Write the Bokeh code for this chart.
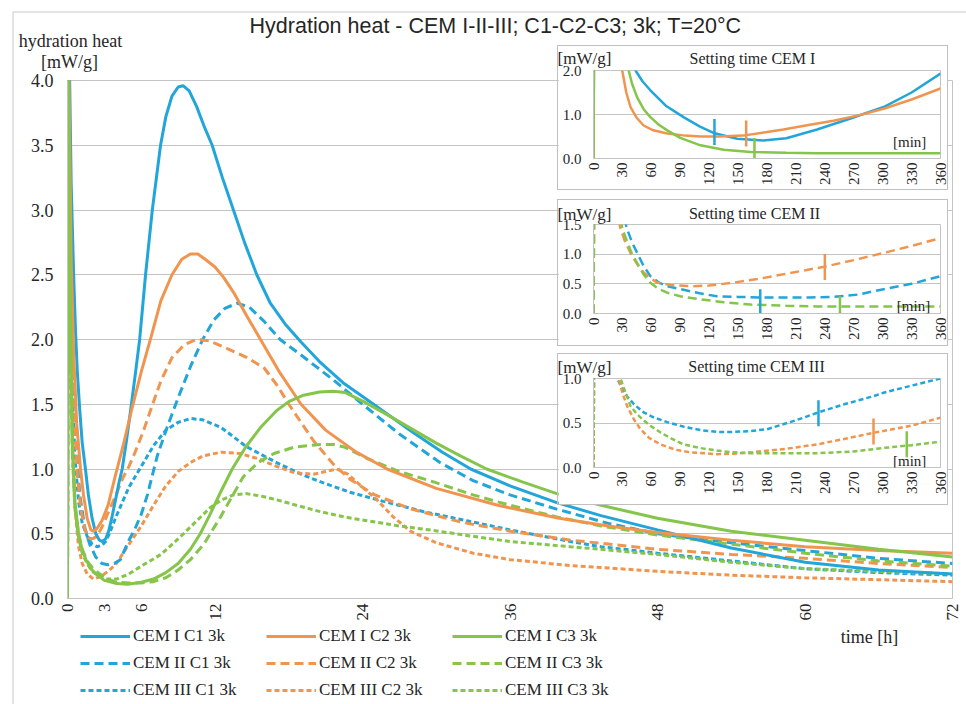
import math
import numpy as np
from bokeh.plotting import figure
from bokeh.models import (Range1d, FixedTicker, PrintfTickFormatter, Label, Legend,
                          LegendItem, GridBox)
from bokeh.embed import file_html
from bokeh.resources import INLINE

# ---------------- data: main chart (time in hours, heat in mW/g) ----------------
X_TICKS = [0, 3, 6, 12, 24, 36, 48, 60, 72]
Y_TICKS = [0, 0.5, 1.0, 1.5, 2.0, 2.5, 3.0, 3.5, 4.0]
CEMS = ["I", "II", "III"]
CLASSES = ["C1", "C2", "C3"]

T_I_C1 = [0, 0.05, 0.3, 0.5, 0.65, 0.8, 1.0, 1.2, 1.46, 1.7, 2.0, 2.3, 2.6, 2.85, 3.1, 3.35, 3.6, 3.9, 4.2, 4.45,
          4.8, 5.13, 5.5, 5.87, 6.35, 6.9, 7.57, 8.0, 8.5, 9.0, 9.4, 9.9, 10.5, 11.1, 11.77, 12.6, 13.5, 14.4, 15.4,
          16.5, 17.7, 19.0, 20.5, 22.5, 24.9, 28.0, 30.5, 32.8, 36.0, 39.8, 43.4, 48.0, 54.0, 60.0, 66.0, 72.0]
V_I_C1 = [0, 4.8, 3.2, 2.5, 2.07, 1.75, 1.45, 1.2, 1.0, 0.8, 0.62, 0.5, 0.45, 0.44, 0.46, 0.52, 0.62, 0.76, 0.9, 1.0,
          1.22, 1.45, 1.72, 2.0, 2.5, 3.0, 3.5, 3.72, 3.88, 3.95, 3.96, 3.92, 3.8, 3.65, 3.5, 3.25, 3.0, 2.75, 2.5,
          2.28, 2.12, 1.98, 1.83, 1.66, 1.5, 1.29, 1.13, 1.0, 0.87, 0.74, 0.64, 0.53, 0.39, 0.28, 0.22, 0.19]

T_I_C2 = [0, 0.05, 0.3, 0.5, 0.75, 1.06, 1.3, 1.6, 1.9, 2.1, 2.4, 2.8, 3.3, 3.9, 4.5, 5.2, 6.0, 6.8, 7.6, 8.5,
          9.3, 10.0, 10.6, 11.2, 12.0, 12.7, 13.6, 14.6, 15.7, 17.3, 19.0, 21.0, 23.5, 26.0, 30.0, 35.0, 40.0,
          44.0, 48.0, 54.0, 60.0, 66.0, 72.0]
V_I_C2 = [0, 4.6, 2.6, 1.9, 1.35, 1.0, 0.8, 0.62, 0.53, 0.52, 0.54, 0.6, 0.72, 0.95, 1.17, 1.45, 1.75, 2.02, 2.3, 2.5,
          2.62, 2.66, 2.66, 2.62, 2.56, 2.48, 2.35, 2.18, 2.0, 1.74, 1.5, 1.3, 1.13, 1.0, 0.85, 0.72, 0.62,
          0.56, 0.51, 0.45, 0.40, 0.37, 0.35]

T_I_C3 = [0, 0.05, 0.2, 0.4, 0.6, 0.9, 1.2, 1.5, 1.9, 2.3, 3.0, 4.0, 4.9, 6.0, 7.0, 8.0, 9.0, 10.0, 10.8, 11.6,
          12.5, 13.4, 14.5, 15.7, 17.0, 18.0, 19.2, 20.5, 21.6, 22.6, 24.1, 26.0, 28.0, 30.0, 32.0, 34.1, 37.0,
          39.8, 43.4, 48.0, 54.0, 60.0, 66.0, 72.0]
V_I_C3 = [0, 4.4, 2.5, 1.2, 0.75, 0.5, 0.37, 0.3, 0.23, 0.19, 0.14, 0.115, 0.11, 0.125, 0.15, 0.2, 0.27, 0.38, 0.5, 0.65,
          0.83, 1.0, 1.17, 1.32, 1.45, 1.52, 1.57, 1.595, 1.6, 1.59, 1.52, 1.42, 1.31, 1.2, 1.1, 1.0, 0.9,
          0.81, 0.72, 0.62, 0.52, 0.45, 0.38, 0.32]

T_II_C1 = [0, 0.05, 0.3, 0.5, 0.7, 1.0, 1.4, 1.8, 2.3, 2.8, 3.3, 3.8, 4.3, 5.0, 5.5, 6.0, 6.5, 7.3, 8.1, 9.0,
           10.0, 11.0, 11.9, 12.8, 13.8, 14.8, 16.0, 17.3, 19.0, 21.6, 24.0, 27.0, 30.3, 33.0, 36.0, 39.8, 44.0,
           48.0, 54.0, 60.0, 66.0, 72.0]
V_II_C1 = [0, 4.5, 2.6, 1.7, 1.2, 0.8, 0.55, 0.42, 0.32, 0.27, 0.26, 0.27, 0.3, 0.45, 0.54, 0.65, 0.8, 1.1, 1.32, 1.55,
           1.79, 2.0, 2.15, 2.24, 2.28, 2.25, 2.14, 2.0, 1.88, 1.69, 1.5, 1.27, 1.05, 0.91, 0.8, 0.69, 0.58,
           0.5, 0.43, 0.37, 0.31, 0.27]

T_II_C2 = [0, 0.05, 0.3, 0.5, 0.8, 1.1, 1.4, 1.7, 2.0, 2.4, 2.8, 3.3, 3.9, 4.5, 5.0, 5.5, 6.2, 7.0, 7.6, 8.5,
           9.5, 10.5, 11.5, 13.0, 14.6, 16.0, 17.1, 18.0, 19.0, 20.0, 21.6, 23.0, 25.0, 28.0, 32.0, 36.0, 41.0,
           48.0, 54.0, 60.0, 66.0, 72.0]
V_II_C2 = [0, 4.5, 2.3, 1.5, 0.95, 0.68, 0.54, 0.47, 0.46, 0.48, 0.55, 0.66, 0.79, 0.93, 1.02, 1.13, 1.3, 1.52, 1.68, 1.86,
           1.96, 2.0, 1.99, 1.93, 1.86, 1.78, 1.64, 1.5, 1.36, 1.22, 1.04, 0.92, 0.8, 0.69, 0.59, 0.52, 0.45,
           0.38, 0.34, 0.31, 0.27, 0.24]

T_II_C3 = [0, 0.05, 0.2, 0.4, 0.6, 0.9, 1.2, 1.6, 2.0, 2.6, 3.3, 4.0, 5.0, 6.0, 7.0, 8.0, 9.0, 10.0, 11.1, 12.45,
           13.4, 14.3, 15.5, 16.8, 18.5, 20.6, 21.6, 22.5, 24.4, 27.0, 29.8, 33.0, 36.0, 39.8, 43.4, 48.0, 54.0,
           60.0, 66.0, 72.0]
V_II_C3 = [0, 4.3, 2.4, 1.15, 0.72, 0.5, 0.38, 0.29, 0.24, 0.19, 0.15, 0.125, 0.12, 0.12, 0.13, 0.16, 0.22, 0.3, 0.42, 0.63,
           0.79, 0.94, 1.05, 1.12, 1.17, 1.19, 1.19, 1.17, 1.08, 0.98, 0.9, 0.8, 0.72, 0.63, 0.56, 0.49, 0.42,
           0.35, 0.29, 0.25]

T_III_C1 = [0, 0.05, 0.25, 0.4, 0.6, 0.9, 1.2, 1.6, 2.0, 2.4, 2.8, 3.1, 3.4, 3.9, 4.4, 5.0, 5.5, 6.0, 7.0, 8.0,
            9.0, 10.0, 11.0, 12.5, 14.6, 17.0, 19.0, 20.6, 23.0, 25.7, 29.0, 32.5, 36.0, 40.9, 43.4, 48.0, 54.0,
            60.0, 66.0, 72.0]
V_III_C1 = [0, 4.2, 2.4, 1.6, 1.1, 0.75, 0.58, 0.48, 0.42, 0.4, 0.41, 0.44, 0.5, 0.62, 0.73, 0.86, 0.94, 1.02, 1.18, 1.3,
            1.36, 1.39, 1.38, 1.32, 1.17, 1.05, 0.96, 0.9, 0.82, 0.75, 0.67, 0.6, 0.53, 0.44, 0.4, 0.35, 0.29,
            0.23, 0.2, 0.18]

T_III_C2 = [0, 0.05, 0.25, 0.4, 0.6, 0.9, 1.2, 1.6, 2.1, 2.7, 3.3, 3.9, 4.8, 6.0, 7.0, 8.0, 9.0, 10.0, 11.0, 12.5,
            14.0, 15.5, 17.0, 18.5, 20.0, 21.0, 21.9, 22.8, 24.0, 25.2, 26.5, 27.9, 30.0, 33.0, 36.0, 40.9, 48.0,
            54.0, 60.0, 66.0, 72.0]
V_III_C2 = [0, 4.0, 2.0, 1.2, 0.7, 0.4, 0.27, 0.19, 0.15, 0.17, 0.21, 0.26, 0.39, 0.56, 0.72, 0.87, 0.98, 1.05, 1.1, 1.13,
            1.12, 1.08, 1.02, 0.97, 0.96, 0.98, 1.0, 0.96, 0.86, 0.76, 0.63, 0.52, 0.43, 0.35, 0.3, 0.255, 0.21,
            0.18, 0.16, 0.145, 0.13]

T_III_C3 = [0, 0.05, 0.2, 0.4, 0.6, 0.9, 1.2, 1.6, 2.0, 2.6, 3.2, 4.0, 5.0, 6.0, 7.6, 9.0, 10.3, 11.6, 12.5, 13.5,
            14.5, 15.8, 17.1, 19.0, 20.6, 22.5, 24.4, 27.0, 29.8, 33.0, 36.0, 40.9, 43.4, 48.0, 54.0, 60.0, 66.0, 72.0]
V_III_C3 = [0, 4.2, 2.3, 1.1, 0.7, 0.47, 0.35, 0.27, 0.21, 0.17, 0.15, 0.15, 0.19, 0.25, 0.34, 0.46, 0.58, 0.7, 0.76, 0.8,
            0.81, 0.79, 0.76, 0.71, 0.67, 0.63, 0.6, 0.56, 0.525, 0.48, 0.44, 0.4, 0.38, 0.34, 0.28, 0.23, 0.21, 0.19]

# ---------------- data: setting-time insets (time in minutes) ----------------
M_TICKS = [0, 30, 60, 90, 120, 150, 180, 210, 240, 270, 300, 330, 360]

S1_C1_M = [0, 1, 30, 43.6, 51, 59, 75, 93.4, 110, 124.5, 149, 176, 200, 232, 266.6, 301, 330, 360]
S1_C1_V = [0, 5, 3.0, 2.0, 1.75, 1.55, 1.2, 0.94, 0.73, 0.58, 0.45, 0.41, 0.46, 0.66, 0.91, 1.17, 1.5, 1.93]
S1_C2_M = [0, 1, 20, 29.8, 34, 38.4, 45, 52, 62, 76.5, 95, 111, 130, 155, 180, 197, 223, 249, 275, 301, 330, 360]
S1_C2_V = [0, 5, 3.0, 2.0, 1.5, 1.17, 0.92, 0.75, 0.64, 0.57, 0.52, 0.5, 0.5, 0.52, 0.6, 0.66, 0.76, 0.86, 0.98, 1.13, 1.34, 1.59]
S1_C3_M = [0, 1, 25, 36.5, 40, 45.3, 52, 59, 67, 76.5, 90, 111, 135, 163, 200, 232, 280, 330, 360]
S1_C3_V = [0, 5, 3.0, 2.0, 1.7, 1.39, 1.12, 0.94, 0.78, 0.64, 0.47, 0.3, 0.2, 0.15, 0.13, 0.12, 0.12, 0.12, 0.12]
S1_SET_M = [125.5, 158.4, 167]
S1_SET_V = [0.6, 0.57, 0.17]

S2_C1_M = [0, 1, 25, 34.9, 40, 45.3, 52, 59, 67, 76.5, 93.4, 110, 128, 150, 173, 200, 225, 249, 275, 301, 330, 360]
S2_C1_V = [0, 3, 2, 1.42, 1.2, 1.02, 0.8, 0.63, 0.53, 0.46, 0.4, 0.34, 0.29, 0.28, 0.27, 0.27, 0.27, 0.28, 0.32, 0.41, 0.5, 0.63]
S2_C2_M = [0, 1, 20, 28.2, 33, 38.4, 45, 52, 59, 66, 80, 101, 120, 145, 170, 197, 220, 240, 270, 301, 330, 360]
S2_C2_V = [0, 3, 2, 1.42, 1.2, 1.02, 0.84, 0.69, 0.6, 0.52, 0.48, 0.46, 0.47, 0.52, 0.58, 0.66, 0.73, 0.79, 0.9, 1.02, 1.14, 1.27]
S2_C3_M = [0, 1, 25, 30, 40, 52, 59, 67, 76.5, 90, 111, 135, 163, 200, 232, 270, 301, 330, 360]
S2_C3_V = [0, 3, 2, 1.42, 1.0, 0.66, 0.52, 0.42, 0.35, 0.29, 0.24, 0.19, 0.15, 0.13, 0.12, 0.12, 0.12, 0.12, 0.12]
S2_SET_M = [173, 240, 255.7]
S2_SET_V = [0.19, 0.785, 0.08]

S3_C1_M = [0, 1, 15, 24.6, 30, 34.9, 42, 52, 63, 76.5, 93, 111, 128, 145, 163, 180, 192, 204, 218, 233.4, 260, 290, 301, 330, 360]
S3_C1_V = [0, 2, 1.4, 1.0, 0.88, 0.8, 0.71, 0.62, 0.56, 0.51, 0.46, 0.42, 0.4, 0.4, 0.41, 0.43, 0.47, 0.51, 0.56, 0.62, 0.71, 0.8, 0.84, 0.92, 1.0]
S3_C2_M = [0, 1, 15, 26, 30, 34.9, 42, 48.7, 58, 69.5, 85, 100.6, 128, 145, 163, 200, 232, 260, 290.5, 330, 360]
S3_C2_V = [0, 2, 1.4, 1.0, 0.84, 0.69, 0.54, 0.43, 0.33, 0.26, 0.2, 0.17, 0.15, 0.155, 0.17, 0.21, 0.26, 0.32, 0.39, 0.47, 0.56]
S3_C3_M = [0, 1, 15, 28, 34, 38.4, 45, 52, 59, 70, 80, 93.4, 110, 128, 145, 163, 200, 232, 270, 301, 330, 360]
S3_C3_V = [0, 2, 1.4, 1.0, 0.82, 0.69, 0.6, 0.53, 0.47, 0.39, 0.33, 0.26, 0.22, 0.19, 0.17, 0.16, 0.16, 0.16, 0.18, 0.22, 0.25, 0.29]
S3_SET_M = [233.4, 290.5, 325]
S3_SET_V = [0.61, 0.405, 0.26]

# ---------------- styles ----------------
COLORS = {"C1": "#22a5d8", "C2": "#f0954f", "C3": "#84c54a"}
DASHES = {"I": "solid", "II": "9 5", "III": "5 3"}
GRID = "#c4c4c4"
TXT = "#262626"
SERIF = "Liberation Serif"
SANS = "Liberation Sans"

MAIN = {
    ("I", "C1"): (T_I_C1, V_I_C1), ("I", "C2"): (T_I_C2, V_I_C2), ("I", "C3"): (T_I_C3, V_I_C3),
    ("II", "C1"): (T_II_C1, V_II_C1), ("II", "C2"): (T_II_C2, V_II_C2), ("II", "C3"): (T_II_C3, V_II_C3),
    ("III", "C1"): (T_III_C1, V_III_C1), ("III", "C2"): (T_III_C2, V_III_C2), ("III", "C3"): (T_III_C3, V_III_C3),
}


def label(fig, x, y, text, size, font=SERIF, align="center", baseline="middle"):
    fig.add_layout(Label(x=x, y=y, text=text, text_font=font, text_font_size=f"{size}px",
                         text_color=TXT, text_align=align, text_baseline=baseline))


def style_axes(fig, size_x, size_y):
    for ax in (fig.xaxis[0], fig.yaxis[0]):
        ax.axis_line_color = GRID
        ax.major_tick_line_color = None
        ax.minor_tick_line_color = None
        ax.major_tick_out = 0
        ax.major_tick_in = 0
        ax.major_label_text_font = SERIF
        ax.major_label_text_color = TXT
    fig.xaxis.major_label_text_font_size = f"{size_x}px"
    fig.yaxis.major_label_text_font_size = f"{size_y}px"
    fig.xaxis.major_label_orientation = math.pi / 2
    fig.xgrid.visible = False
    fig.ygrid.grid_line_color = GRID
    fig.outline_line_color = GRID


# ---------------- main figure ----------------
MW, MH = 966, 704
main = figure(width=MW, height=MH, x_range=Range1d(0, 72), y_range=Range1d(0, 4),
              output_backend="svg", toolbar_location=None, title=None, frame_align=False,
              min_border_left=67, min_border_right=14, min_border_top=80, min_border_bottom=106)
main.xaxis.ticker = FixedTicker(ticks=X_TICKS)
main.yaxis.ticker = FixedTicker(ticks=Y_TICKS)
main.yaxis.formatter = PrintfTickFormatter(format="%.1f")
style_axes(main, 17, 18)
main.yaxis.major_label_standoff = 14
main.xaxis.major_label_standoff = 5

for cem in ["III", "II", "I"]:
    for c in CLASSES:
        t, v = MAIN[(cem, c)]
        main.line(t, v, line_color=COLORS[c], line_width=3, line_dash=DASHES[cem])

# ---------------- insets ----------------
IW = 391


def make_inset(height, bottom, ymax, yticks, series, set_m, set_v, dash):
    f = figure(width=IW, height=height, x_range=Range1d(0, 360), y_range=Range1d(0, ymax),
               output_backend="svg", toolbar_location=None, title=None, frame_align=False,
               min_border_left=35, min_border_right=9, min_border_top=24, min_border_bottom=bottom,
               styles={"border": "1px solid #c0c0c0"})
    f.xaxis.ticker = FixedTicker(ticks=M_TICKS)
    f.yaxis.ticker = FixedTicker(ticks=yticks)
    f.yaxis.formatter = PrintfTickFormatter(format="%.1f")
    style_axes(f, 15, 15)
    f.yaxis.major_label_standoff = 12
    f.xaxis.major_label_standoff = 4
    for (m, v, c) in series:
        f.line(m, v, line_color=COLORS[c], line_width=2.5, line_dash=dash)
    f.scatter(set_m, set_v, marker="dash", angle=math.pi / 2, size=26, line_width=2.5,
              line_color=[COLORS[c] for c in CLASSES])
    return f


ins1 = make_inset(145, 33, 2.0, [0, 1.0, 2.0],
                  [(S1_C1_M, S1_C1_V, "C1"), (S1_C2_M, S1_C2_V, "C2"), (S1_C3_M, S1_C3_V, "C3")],
                  S1_SET_M, S1_SET_V, DASHES["I"])
label(ins1, 328, 0.37, "[min]", 15)

ins2 = make_inset(147, 34, 1.5, [0, 0.5, 1.0, 1.5],
                  [(S2_C1_M, S2_C1_V, "C1"), (S2_C2_M, S2_C2_V, "C2"), (S2_C3_M, S2_C3_V, "C3")],
                  S2_SET_M, S2_SET_V, DASHES["II"])
label(ins2, 332, 0.12, "[min]", 15)

ins3 = make_inset(152, 39, 1.0, [0, 0.5, 1.0],
                  [(S3_C1_M, S3_C1_V, "C1"), (S3_C2_M, S3_C2_V, "C2"), (S3_C3_M, S3_C3_V, "C3")],
                  S3_SET_M, S3_SET_V, DASHES["III"])
label(ins3, 328, 0.07, "[min]", 15)

# ---------------- text + legend layer (page pixel coordinates, transparent, on top) ----------------
over = figure(width=MW, height=MH, x_range=Range1d(0, MW), y_range=Range1d(MH, 0),
              output_backend="svg", toolbar_location=None, title=None, frame_align=False,
              min_border=0, min_border_left=0, min_border_right=0, min_border_top=0, min_border_bottom=0)
over.axis.visible = False
over.grid.visible = False
over.outline_line_color = None
over.background_fill_alpha = 0
over.border_fill_alpha = 0

label(over, 495, 25, "Hydration heat - CEM I-II-III; C1-C2-C3; 3k; T=20°C", 21.5, font=SANS)
label(over, 70, 40, "hydration heat", 18)
label(over, 69, 61, "[mW/g]", 18)
label(over, 869, 636, "time [h]", 18)
label(over, 752, 58, "Setting time CEM I", 16)
label(over, 754, 213, "Setting time CEM II", 16)
label(over, 756, 366, "Setting time CEM III", 16)
label(over, 557, 58, "[mW/g]", 17, align="left")
label(over, 557, 214, "[mW/g]", 17, align="left")
label(over, 557, 367, "[mW/g]", 17, align="left")
over.line([12.5, MW], [11.5, 11.5], line_color="#c8c8c8", line_width=1)
over.line([12.5, 12.5], [11.5, MH], line_color="#c8c8c8", line_width=1)

# legend keys: same colour / dash / width as the series lines (no visible data of their own)
items = []
for c in CLASSES:
    for cem in CEMS:
        key = over.line(np.array([np.nan]), np.array([np.nan]), line_color=COLORS[c], line_width=3,
                        line_dash=DASHES[cem])
        items.append(LegendItem(label=f"CEM {cem} {c} 3k", renderers=[key]))
legend = Legend(items=items, location=(80, 4), orientation="vertical", ncols=3,
                glyph_width=50, glyph_height=20, label_height=20, label_width=126, label_standoff=3,
                spacing=7, padding=0, margin=0, border_line_color=None, background_fill_alpha=0,
                label_text_font=SERIF, label_text_font_size="17px", label_text_color=TXT)
over.add_layout(legend)

root = GridBox(children=[(main, 0, 0, 7, 3), (ins1, 1, 1), (ins2, 3, 1), (ins3, 5, 1), (over, 0, 0, 7, 3)],
               rows=["45px", "147px", "7px", "149px", "5px", "154px", "197px"],
               cols=["557px", "393px", "16px"], spacing=0)

open("out.html", "w").write(file_html(root, INLINE))
